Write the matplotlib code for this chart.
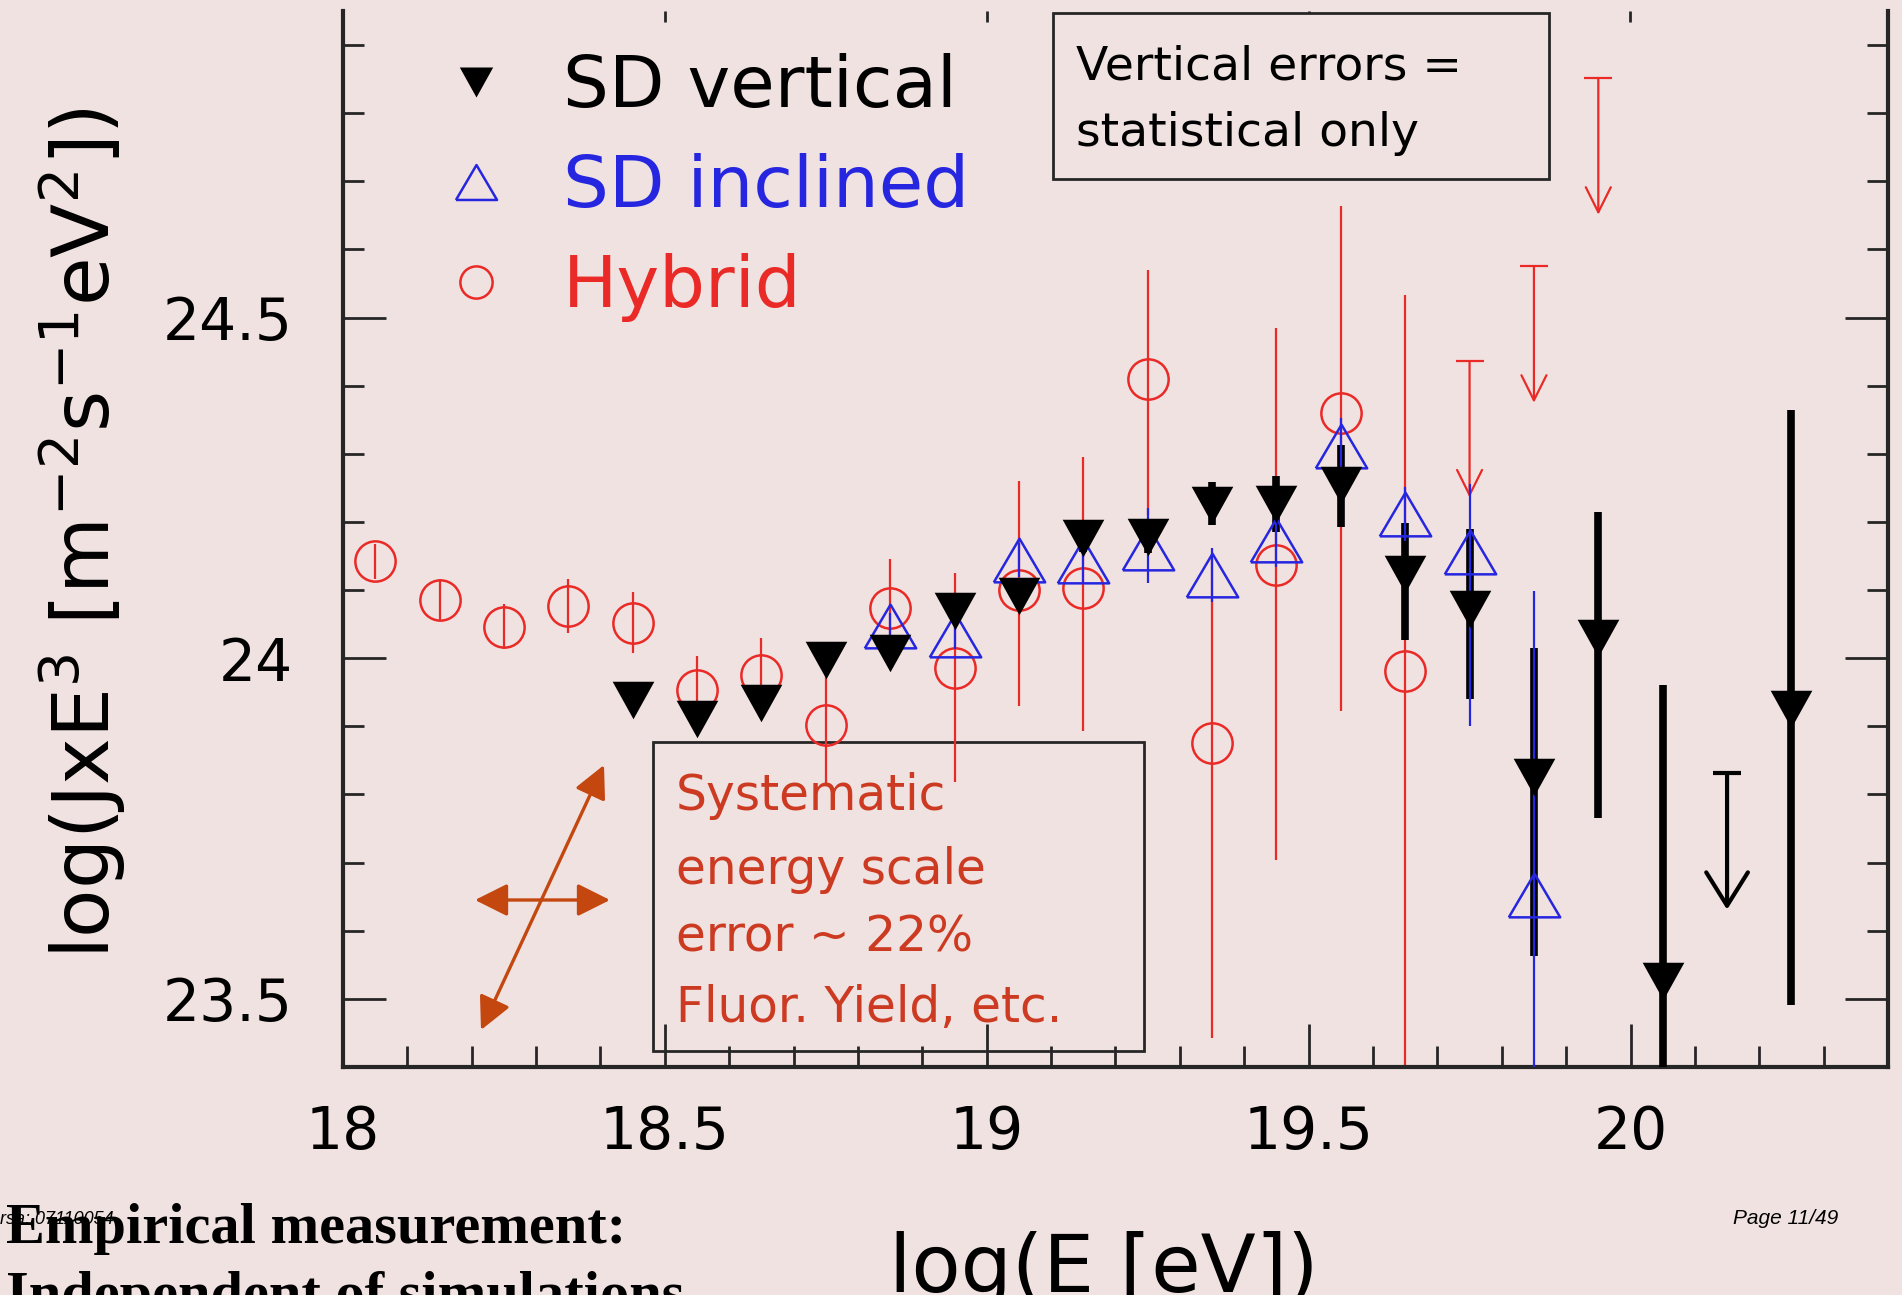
import numpy as np
import matplotlib
matplotlib.use("Agg")
from matplotlib import pyplot as plt
from matplotlib.patches import Rectangle
from matplotlib.ticker import MultipleLocator

# Hybrid (red circles): log E bin, value, lower / upper error
hyb_x = [18.05, 18.15, 18.25, 18.35, 18.45, 18.55, 18.65, 18.75, 18.85,
         18.95, 19.05, 19.15, 19.25, 19.35, 19.45, 19.55, 19.65]
hyb_y = [24.142, 24.086, 24.046, 24.077, 24.052, 23.954, 23.976, 23.902, 24.074,
         23.986, 24.100, 24.103, 24.410, 23.876, 24.137, 24.360, 23.981]
hyb_lo = [0.025, 0.030, 0.033, 0.040, 0.045, 0.050, 0.052, 0.085, 0.075,
          0.167, 0.170, 0.210, 0.200, 0.433, 0.433, 0.438, 0.700]
hyb_hi = [0.025, 0.030, 0.033, 0.040, 0.045, 0.050, 0.054, 0.090, 0.071,
          0.139, 0.160, 0.193, 0.160, 0.270, 0.348, 0.304, 0.552]
hyb_lim_x = [19.75, 19.85, 19.95]
hyb_lim_y = [24.436, 24.575, 24.851]

# SD vertical (black filled triangles)
sdv_x = [18.45, 18.55, 18.65, 18.75, 18.85, 18.95, 19.05, 19.15, 19.25,
         19.35, 19.45, 19.55, 19.65, 19.75, 19.85, 19.95, 20.05, 20.25]
sdv_y = [23.938, 23.911, 23.935, 23.997, 24.007, 24.070, 24.091, 24.176, 24.178,
         24.225, 24.226, 24.254, 24.124, 24.072, 23.826, 24.029, 23.526, 23.926]
sdv_lo = [0.008, 0.008, 0.009, 0.010, 0.012, 0.014, 0.016, 0.020, 0.024,
          0.030, 0.040, 0.061, 0.097, 0.132, 0.263, 0.264, 0.600, 0.435]
sdv_hi = [0.008, 0.008, 0.009, 0.010, 0.012, 0.014, 0.016, 0.020, 0.024,
          0.033, 0.041, 0.059, 0.074, 0.117, 0.189, 0.186, 0.435, 0.439]
sdv_lim_x = [20.15]
sdv_lim_y = [23.831]

# SD inclined (blue open triangles)
sdi_x = [18.85, 18.95, 19.05, 19.15, 19.25, 19.35, 19.45, 19.55, 19.65, 19.75, 19.85]
sdi_y = [24.047, 24.034, 24.144, 24.142, 24.162, 24.122, 24.174, 24.312, 24.212,
         24.156, 23.653]
sdi_lo = [0.020, 0.020, 0.025, 0.030, 0.052, 0.040, 0.040, 0.040, 0.040, 0.256, 0.700]
sdi_hi = [0.020, 0.020, 0.025, 0.030, 0.058, 0.040, 0.040, 0.040, 0.040, 0.100, 0.445]

labels = ["SD vertical", "SD inclined", "Hybrid"]
note_top = ["Vertical errors =", "statistical only"]
note_sys = ["Systematic", "energy scale", "error ~ 22%", "Fluor. Yield, etc."]

BG = "#f0e2e1"
RED = "#ea2a26"
BLUE = "#2626e0"
BROWN = "#c4470f"
TXT_RED = "#cc3a22"
AXC = "#262626"
LIMIT_LEN = 0.2

W, H = 1902, 1295


def fx(px):
    return px / W


def fy(py):
    return 1 - py / H


fig = plt.figure(figsize=(W / 100, H / 100), dpi=100, facecolor=BG)
ax = fig.add_axes([fx(343), fy(1067), fx(1888) - fx(343), fy(11) - fy(1067)])
ax.set_facecolor(BG)
ax.set_xlim(18.0, 20.4)
ax.set_ylim(23.4, 24.95)

# closed triangle outlines (a bit wider than tall, like the original)
tri_down = [(-1, 0.9), (1, 0.9), (0, -0.9), (-1, 0.9)]
tri_up = [(-1, -0.85), (1, -0.85), (0, 0.85), (-1, -0.85)]


def vbars(x, y, lo, hi, color, lw, z):
    y = np.asarray(y)
    ax.vlines(x, y - np.asarray(lo), y + np.asarray(hi), color=color, lw=lw, zorder=z)


def upper_limits(x, y, color, lw, z, head=(0.9, 0.45)):
    style = "->,head_length=%g,head_width=%g" % head
    for xi, yi in zip(x, y):
        ax.annotate("", xy=(xi, yi - LIMIT_LEN), xytext=(xi, yi),
                    arrowprops=dict(arrowstyle=style, color=color, lw=lw,
                                    shrinkA=0, shrinkB=0, mutation_scale=20),
                    zorder=z)
    ax.plot(x, y, ls="none", marker="_", ms=20, mew=lw, color=color, zorder=z)


# error bars
vbars(hyb_x, hyb_y, hyb_lo, hyb_hi, RED, 1.6, 2)
upper_limits(hyb_lim_x, hyb_lim_y, RED, 1.6, 2)
vbars(sdv_x, sdv_y, sdv_lo, sdv_hi, "black", 5.5, 3)
upper_limits(sdv_lim_x, sdv_lim_y, "black", 3.0, 3, head=(1.2, 0.75))
vbars(sdi_x, sdi_y, sdi_lo, sdi_hi, BLUE, 1.6, 4)

# markers
h_hyb, = ax.plot(hyb_x, hyb_y, ls="none", marker="o", ms=29, mfc="none",
                 mec=RED, mew=1.8, zorder=2.5)
h_sdi, = ax.plot(sdi_x, sdi_y, ls="none", marker=tri_up, ms=37, mfc="none",
                 mec=BLUE, mew=1.8, zorder=5)
h_sdv, = ax.plot(sdv_x, sdv_y, ls="none", marker=tri_down, ms=30, mfc="black",
                 mec="black", mew=0, zorder=6)

leg = ax.legend([h_sdv, h_sdi, h_hyb], labels, loc="upper left",
                bbox_to_anchor=(fx(440), fy(53)), bbox_transform=fig.transFigure,
                frameon=False, fontsize=52, markerscale=0.8, handlelength=1.0,
                handletextpad=0.7, labelspacing=0.43, borderpad=0, borderaxespad=0,
                labelcolor=["black", BLUE, RED])

# axes styling
for side in ["left", "right", "bottom"]:
    ax.spines[side].set_linewidth(3)
    ax.spines[side].set_color(AXC)
ax.spines["top"].set_visible(False)

ax.xaxis.set_major_locator(MultipleLocator(0.5))
ax.xaxis.set_minor_locator(MultipleLocator(0.1))
ax.yaxis.set_major_locator(MultipleLocator(0.5))
ax.yaxis.set_minor_locator(MultipleLocator(0.1))
ax.tick_params(which="both", direction="in", right=True, top=False,
               color=AXC, width=2)
ax.tick_params(which="major", length=31, labelsize=42)
ax.tick_params(which="minor", length=15)
ax.tick_params(axis="x", which="major", pad=27)
ax.tick_params(axis="y", which="major", pad=36)
ax.set_xticks([18, 18.5, 19, 19.5, 20])
ax.set_xticklabels(["18", "18.5", "19", "19.5", "20"])
ax.set_yticks([23.5, 24, 24.5])
ax.set_yticklabels(["23.5", "24", "24.5"])

top = ax.secondary_xaxis("top")
top.set_xticks([18.5, 19, 19.5, 20])
top.tick_params(direction="in", length=8, width=2, color=AXC, labeltop=False)
top.spines["top"].set_visible(False)

ax.set_ylabel(r"log(JxE$^{3}$ [m$^{-2}$s$^{-1}$eV$^{2}$])", fontsize=57)
ax.yaxis.set_label_coords(-0.139, 0.505)
ax.set_xlabel("log(E [eV])", fontsize=58)
ax.xaxis.set_label_coords(0.4926, -0.155)

# "vertical errors" note
ax.add_patch(Rectangle((fx(1053), fy(179)), fx(1549) - fx(1053), fy(13) - fy(179),
                       transform=fig.transFigure, facecolor=BG, edgecolor=AXC,
                       lw=2, zorder=10, clip_on=False))
for txt, py in zip(note_top, [67, 134]):
    ax.text(fx(1076), fy(py), txt, transform=fig.transFigure, fontsize=34,
            va="center", ha="left", zorder=11)

# systematic note
ax.add_patch(Rectangle((fx(653), fy(1051)), fx(1144) - fx(653), fy(742) - fy(1051),
                       transform=fig.transFigure, facecolor="none", edgecolor=AXC,
                       lw=2, zorder=1.5, clip_on=False))
for txt, py in zip(note_sys, [796, 870, 938, 1008]):
    ax.text(fx(676), fy(py), txt, transform=fig.transFigure, fontsize=35,
            color=TXT_RED, va="center", ha="left", zorder=11)

arrow_kw = dict(arrowstyle="<|-|>,head_length=1.0,head_width=0.5", color=BROWN,
                lw=2.4, shrinkA=0, shrinkB=0, mutation_scale=20)
ax.annotate("", xy=(fx(610), fy(900)), xytext=(fx(475), fy(900)),
            xycoords="figure fraction", textcoords="figure fraction", arrowprops=arrow_kw)
ax.annotate("", xy=(fx(604), fy(765)), xytext=(fx(481), fy(1030)),
            xycoords="figure fraction", textcoords="figure fraction", arrowprops=arrow_kw)

# slide text below the plot
fig.text(fx(6), fy(1243), "Empirical measurement:", family="Liberation Serif",
         weight="bold", fontsize=42, va="baseline")
fig.text(fx(6), fy(1311), "Independent of simulations", family="Liberation Serif",
         weight="bold", fontsize=42, va="baseline")
fig.text(0, fy(1219), "rsa: 07110054", family="Liberation Sans", style="italic",
         fontsize=13, va="center")
fig.text(fx(1786), fy(1219), "Page 11/49", family="Liberation Sans", style="italic",
         fontsize=15, va="center", ha="center")

fig.savefig("out.png", dpi=100, facecolor=BG)
